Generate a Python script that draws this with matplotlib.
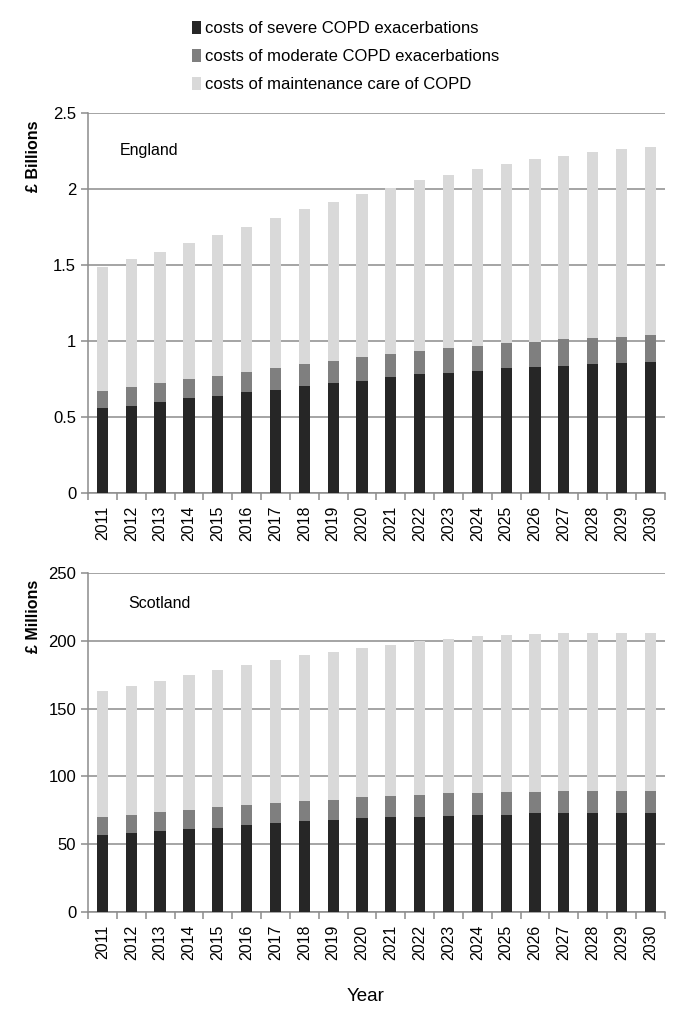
import numpy as np
from matplotlib import pyplot as plt
from matplotlib.ticker import MultipleLocator, FixedLocator

plt.rcParams['font.family'] = ['Liberation Sans', 'DejaVu Sans']

years = list(range(2011, 2031))

# England, £ billions (cumulative tops)
eng_severe = [0.557, 0.574, 0.599, 0.623, 0.640, 0.664, 0.680, 0.706, 0.724, 0.739,
              0.763, 0.781, 0.789, 0.805, 0.822, 0.831, 0.838, 0.847, 0.855, 0.864]
eng_sev_mod = [0.673, 0.700, 0.724, 0.748, 0.772, 0.796, 0.822, 0.847, 0.870, 0.895,
               0.912, 0.936, 0.952, 0.969, 0.987, 0.995, 1.013, 1.020, 1.028, 1.037]
eng_total = [1.489, 1.537, 1.588, 1.645, 1.695, 1.750, 1.809, 1.868, 1.917, 1.965,
             2.009, 2.057, 2.090, 2.130, 2.164, 2.197, 2.220, 2.245, 2.263, 2.278]

# Scotland, £ millions
sco_severe = [56.9, 58.6, 59.6, 61.4, 62.3, 64.3, 65.3, 67.0, 68.0, 69.0,
              69.7, 69.7, 70.7, 71.7, 71.7, 72.7, 72.7, 72.7, 72.7, 72.7]
sco_sev_mod = [69.7, 71.7, 73.4, 75.4, 77.1, 79.1, 80.1, 81.8, 82.8, 84.5,
               85.5, 86.5, 87.7, 87.7, 88.4, 88.4, 89.1, 89.1, 89.1, 89.1]
sco_total = [162.7, 166.7, 170.4, 174.8, 178.7, 182.1, 185.8, 189.5, 192.1, 194.9,
             196.8, 199.8, 201.5, 203.2, 204.4, 205.1, 206.1, 206.1, 206.1, 206.1]

labels = ['costs of severe COPD exacerbations',
          'costs of moderate COPD exacerbations',
          'costs of maintenance care of COPD']
colors = ['#262626', '#7f7f7f', '#d9d9d9']


def draw_panel(ax, severe, sev_mod, total, ymax, step, ylabel, name, name_pos, lab_y):
    x = np.arange(len(years))
    severe = np.array(severe)
    moderate = np.array(sev_mod) - severe
    maint = np.array(total) - np.array(sev_mod)
    w = 0.39
    ax.bar(x, severe, w, color=colors[0], label=labels[0], zorder=3)
    ax.bar(x, moderate, w, bottom=severe, color=colors[1], label=labels[1], zorder=3)
    ax.bar(x, maint, w, bottom=severe + moderate, color=colors[2], label=labels[2], zorder=3)

    ax.set_xlim(-0.5, len(years) - 0.5)
    ax.set_ylim(0, ymax)
    ax.yaxis.set_major_locator(MultipleLocator(step))
    ax.grid(axis='y', color='#8c8c8c', linewidth=1.1, zorder=0)
    for s in ['top', 'right']:
        ax.spines[s].set_visible(False)
    for s in ['left', 'bottom']:
        ax.spines[s].set_color('#8c8c8c')
        ax.spines[s].set_linewidth(1.1)

    ax.set_xticks(x)
    ax.set_xticklabels([str(y) for y in years], rotation=90, fontsize=11.5)
    ax.tick_params(axis='x', which='major', length=0, pad=9)
    ax.xaxis.set_minor_locator(FixedLocator(np.arange(-0.5, len(years), 1.0)))
    ax.tick_params(axis='x', which='minor', length=5, color='#8c8c8c', width=1.1)
    ax.tick_params(axis='y', length=5, color='#8c8c8c', width=1.1, labelsize=12)
    ax.set_ylabel(ylabel, fontsize=11.5, fontweight='bold')
    ax.yaxis.set_label_coords(-0.082, lab_y)
    ax.text(name_pos[0], name_pos[1], name, transform=ax.transAxes, fontsize=11.5, va='center')
    ax.yaxis.set_major_formatter(plt.FuncFormatter(lambda v, p: ('%g' % v)))


fig = plt.figure(figsize=(6.85, 10.14), dpi=100)
ax1 = fig.add_axes([0.1285, 0.5138, 0.842, 0.3748])
ax2 = fig.add_axes([0.1285, 0.1006, 0.842, 0.3343])

draw_panel(ax1, eng_severe, eng_sev_mod, eng_total, 2.5, 0.5, '£ Billions', 'England',
           (0.055, 0.90), 0.887)
draw_panel(ax2, sco_severe, sco_sev_mod, sco_total, 250, 50, '£ Millions', 'Scotland',
           (0.069, 0.909), 0.873)

handles, labs = ax1.get_legend_handles_labels()
fig.legend(handles, labs, loc='upper left', bbox_to_anchor=(0.271, 0.986),
           frameon=False, fontsize=12, handlelength=0.55, handleheight=0.8,
           handletextpad=0.2, labelspacing=0.78, borderaxespad=0)

fig.text(0.534, 0.013, 'Year', ha='center', fontsize=13.5)

fig.savefig('out.png', dpi=100)
